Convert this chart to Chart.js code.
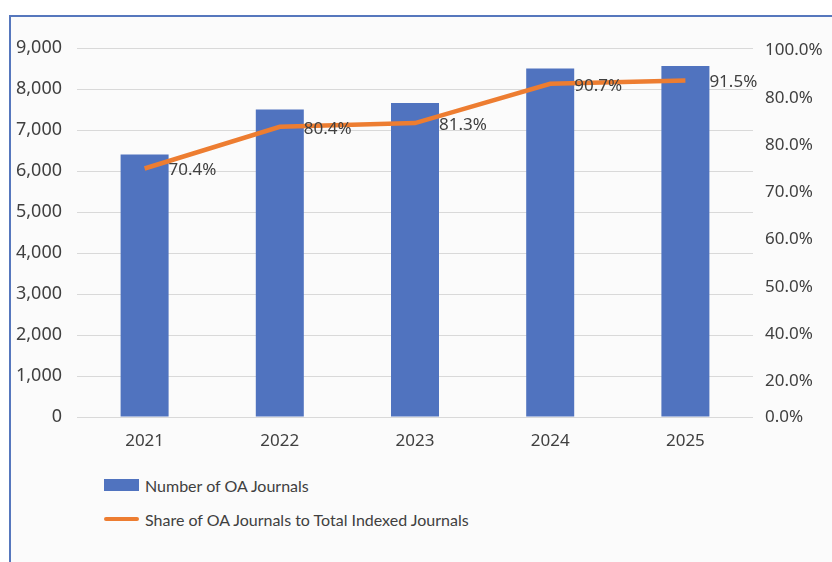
<!DOCTYPE html>
<html>
<head>
<meta charset="utf-8">
<script src="https://cdn.jsdelivr.net/npm/chart.js@4.4.1/dist/chart.umd.min.js"></script>
<style>
  html, body { margin: 0; padding: 0; background: #ffffff; }
  #frame {
    position: absolute; left: 9px; top: 15px; width: 821px; height: 545px;
    border-top: 2px solid #5677bd; border-left: 2px solid #5677bd;
    background: #fbfbfb; overflow: hidden;
  }
  #chart { position: absolute; left: 0; top: 0; }
  #legend { position: absolute; left: 93px; top: 456px; font-family: Lato, sans-serif; font-size: 16px; color: #404040; }
  .item { display: flex; align-items: center; height: 24px; margin-bottom: 10px; }
  .swatch { width: 35px; margin-right: 6px; }
</style>
</head>
<body>
<div id="frame">
  <canvas id="chart" width="821" height="440"></canvas>
  <div id="legend"></div>
</div>
<script>
// data
var years = ['2021', '2022', '2023', '2024', '2025'];
var oaJournals = [6400, 7500, 7660, 8500, 8560];
var oaShare = [70.4, 80.4, 81.3, 90.7, 91.5];
// right axis labels as printed (bottom to top)
var shareTickLabels = ['0.0%', '20.0%', '40.0%', '50.0%', '60.0%', '70.0%', '80.0%', '80.0%', '100.0%'];

var tickFont = { family: 'Noto Sans', size: 18 };

Chart.defaults.color = '#404040';

// draws the "70.4%" style labels to the right of each line point
var shareLabels = {
    id: 'shareLabels',
    afterDatasetsDraw: function (chart) {
        var ctx = chart.ctx;
        var meta = chart.getDatasetMeta(1);
        ctx.save();
        ctx.font = '17px "Noto Sans"';
        ctx.fillStyle = '#404040';
        ctx.textAlign = 'left';
        ctx.textBaseline = 'middle';
        meta.data.forEach(function (pt, i) {
            ctx.fillText(oaShare[i].toFixed(1) + '%', pt.x + 24, pt.y + 2);
        });
        ctx.restore();
    }
};

var ctx = document.getElementById('chart').getContext('2d');
var chart = new Chart(ctx, {
    type: 'bar',
    data: {
        labels: years,
        datasets: [{
            type: 'bar',
            label: 'Number of OA Journals',
            data: oaJournals,
            backgroundColor: '#5073bf',
            barPercentage: 0.355,
            categoryPercentage: 1,
            yAxisID: 'y',
            order: 2
        }, {
            type: 'line',
            label: 'Share of OA Journals to Total Indexed Journals',
            data: oaShare,
            borderColor: '#ed7d31',
            backgroundColor: '#ed7d31',
            borderWidth: 4.5,
            pointRadius: 0,
            tension: 0,
            yAxisID: 'yShare',
            order: 1
        }]
    },
    options: {
        responsive: false,
        animation: false,
        devicePixelRatio: 1,
        layout: { padding: { top: 31, left: 0, right: 0, bottom: 0 } },
        plugins: {
            legend: { display: false },
            tooltip: { enabled: false }
        },
        scales: {
            x: {
                grid: { display: false },
                border: { display: false },
                ticks: { font: { family: 'Noto Sans', size: 17 }, padding: 6 },
                afterFit: function (s) { s.height = 40; }
            },
            y: {
                position: 'left',
                min: 0,
                max: 9000,
                ticks: {
                    stepSize: 1000,
                    font: tickFont,
                    padding: 15,
                    callback: function (v) { return v.toLocaleString('en-US'); }
                },
                grid: { color: '#d9d9d9', lineWidth: 1, drawTicks: false },
                border: { display: false },
                afterFit: function (s) { s.width = 66; }
            },
            y1: {
                position: 'right',
                min: -0.05,
                max: 7.75,
                grid: { display: false, drawTicks: false },
                border: { display: false },
                ticks: {
                    autoSkip: false,
                    font: { family: 'Noto Sans', size: 17 },
                    padding: 12,
                    callback: function (v, i) { return shareTickLabels[i]; }
                },
                afterBuildTicks: function (s) {
                    s.ticks = shareTickLabels.map(function (_, i) {
                        return { value: i === 0 ? -0.05 : i - 0.3 };
                    });
                },
                afterFit: function (s) { s.width = 79; }
            },
            yShare: {
                display: false,
                min: 10.8,
                max: 99.3
            }
        }
    },
    plugins: [shareLabels]
});

// legend built from the datasets, stacked like the original
var legend = document.getElementById('legend');
chart.data.datasets.forEach(function (ds) {
    var row = document.createElement('div');
    row.className = 'item';
    var sw = document.createElement('div');
    sw.className = 'swatch';
    if (ds.type === 'line') {
        sw.style.height = '4px';
        sw.style.borderRadius = '2px';
        sw.style.background = ds.borderColor;
    } else {
        sw.style.height = '12px';
        sw.style.background = ds.backgroundColor;
    }
    var txt = document.createElement('span');
    txt.textContent = ds.label;
    row.appendChild(sw);
    row.appendChild(txt);
    legend.appendChild(row);
});
</script>
</body>
</html>
